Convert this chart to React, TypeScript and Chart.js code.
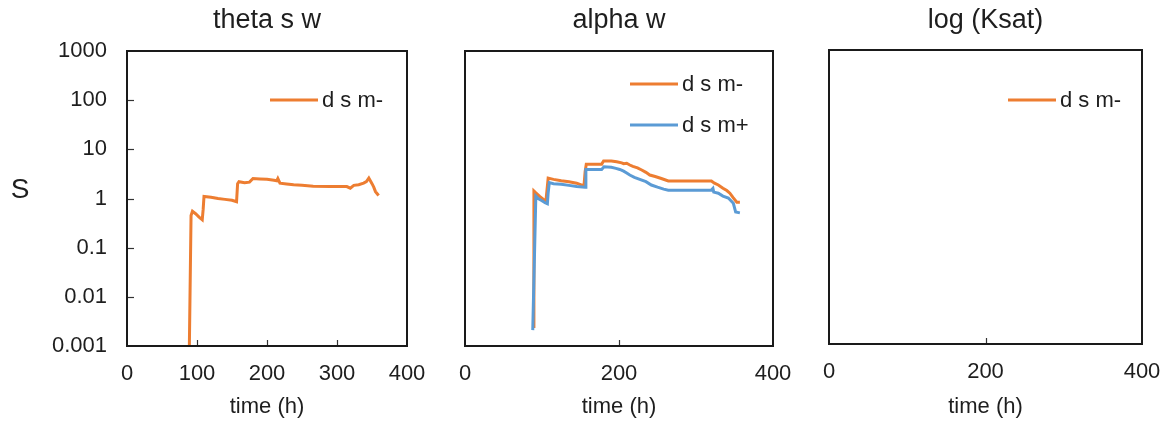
import React, { useEffect, useRef } from 'react';
import { Chart, registerables } from 'chart.js';

Chart.register(...registerables);

const ORANGE = '#ED7D31';
const BLUE = '#5B9BD5';
const TEXT = '#1e1e1e';
const FONT = '"Liberation Sans", Arial, sans-serif';

const yTickValues = [0.001, 0.01, 0.1, 1, 10, 100, 1000];
const panelTitles = ['theta s w', 'alpha w', 'log (Ksat)'];
const seriesLabels = ['d s m-', 'd s m+'];
const xAxisTitle = 'time (h)';
const yAxisTitle = 'S';

// theta s w, d s m-
const thetaTimes = [89, 91.5, 93.5, 98, 103, 107.5, 108.8, 110, 120, 130, 140, 150, 156.5, 158, 160, 168, 175, 180, 190, 200, 210, 214, 215.5, 218.5, 228, 238, 250, 266, 290, 314, 319, 324, 331, 338, 342, 345.5, 350, 352.5, 355, 359.5];
const thetaDsmMinus = [0.0008, 0.45, 0.55, 0.49, 0.42, 0.37, 0.6, 1.1, 1.06, 1.0, 0.96, 0.92, 0.86, 2.0, 2.2, 2.1, 2.15, 2.55, 2.5, 2.45, 2.35, 2.3, 2.55, 2.05, 1.98, 1.9, 1.85, 1.78, 1.76, 1.75, 1.62, 1.85, 1.9, 2.05, 2.2, 2.6, 2.0, 1.7, 1.38, 1.15];

// alpha w, d s m-
const alphaTimesMinus = [88.5, 89.5, 92, 97, 101, 105, 106.5, 108, 115, 125, 135, 145, 154.5, 156, 157.5, 165, 177.5, 180, 190, 197, 203.5, 206, 210, 214, 218, 224, 229.5, 235, 240, 247, 255, 264, 280, 300, 320, 324, 329, 335, 340, 344, 348, 353, 357];
const alphaDsmMinus = [0.0025, 1.42, 1.3, 1.1, 0.98, 0.86, 1.5, 2.6, 2.45, 2.3, 2.2, 2.05, 1.8, 3.5, 5.0, 5.0, 5.0, 5.8, 5.8, 5.6, 5.3, 5.1, 5.2, 4.8, 4.5, 4.2, 3.8, 3.4, 3.0, 2.8, 2.55, 2.27, 2.27, 2.27, 2.27, 2.05, 1.88, 1.62, 1.45, 1.28, 1.05, 0.84, 0.84];

// alpha w, d s m+
const alphaTimesPlus = [88, 92, 95, 100, 104, 107, 108, 109.5, 115, 125, 135, 145, 156, 157, 165, 177.5, 180.5, 190, 196, 201, 206, 210, 214, 220, 227, 235, 242, 250, 258, 264, 280, 300, 320, 322, 323, 329, 335, 342, 348.5, 351.5, 357];
const alphaDsmPlus = [0.0021, 1.12, 1.0, 0.9, 0.82, 0.78, 1.3, 2.1, 2.0, 1.95, 1.85, 1.75, 1.7, 3.9, 3.9, 3.9, 4.4, 4.3, 4.1, 3.9, 3.6, 3.3, 3.0, 2.7, 2.45, 2.2, 1.88, 1.7, 1.55, 1.48, 1.48, 1.48, 1.48, 1.6, 1.35, 1.28, 1.12, 1.02, 0.8, 0.53, 0.51];

// log (Ksat), d s m- : no visible values
const ksatTimes: number[] = [];
const ksatDsmMinus: number[] = [];

type Series = { label: string; x: number[]; y: number[]; color: string; order: number };

type PanelSpec = {
  left: number;
  width: number;
  padLeft: number;
  padRight: number;
  top: number;
  bottom: number;
  title: string;
  xStep: number;
  showY: boolean;
  series: Series[];
  legendDx: number;
  legendYs: number[];
};

const panels: PanelSpec[] = [
  {
    left: 0, width: 440, padLeft: 0, padRight: 33, top: 51, bottom: 346,
    title: panelTitles[0], xStep: 100, showY: true,
    series: [{ label: seriesLabels[0], x: thetaTimes, y: thetaDsmMinus, color: ORANGE, order: 1 }],
    legendDx: 143, legendYs: [100],
  },
  {
    left: 440, width: 360, padLeft: 25, padRight: 27, top: 51, bottom: 346,
    title: panelTitles[1], xStep: 200, showY: false,
    series: [
      { label: seriesLabels[0], x: alphaTimesMinus, y: alphaDsmMinus, color: ORANGE, order: 1 },
      { label: seriesLabels[1], x: alphaTimesPlus, y: alphaDsmPlus, color: BLUE, order: 0 },
    ],
    legendDx: 165, legendYs: [84, 125],
  },
  {
    left: 800, width: 370, padLeft: 29, padRight: 28, top: 50, bottom: 344,
    title: panelTitles[2], xStep: 200, showY: false,
    series: [{ label: seriesLabels[0], x: ksatTimes, y: ksatDsmMinus, color: ORANGE, order: 1 }],
    legendDx: 179, legendYs: [100],
  },
];

const HEIGHT = 423;

function Panel({ spec }: { spec: PanelSpec }) {
  const ref = useRef<HTMLCanvasElement | null>(null);

  useEffect(() => {
    const canvas = ref.current;
    if (!canvas) return;

    const decorPlugin = {
      id: 'decor' + spec.left,
      afterDatasetsDraw(chart: any) {
        const { ctx, chartArea } = chart;
        const { left, right, top, bottom } = chartArea;
        ctx.save();
        // legend
        ctx.font = `22px ${FONT}`;
        ctx.textAlign = 'left';
        ctx.textBaseline = 'middle';
        chart.data.datasets.forEach((ds: any, i: number) => {
          const ly = spec.legendYs[i];
          const lx = left + spec.legendDx;
          ctx.strokeStyle = ds.borderColor;
          ctx.lineWidth = 3;
          ctx.beginPath();
          ctx.moveTo(lx, ly);
          ctx.lineTo(lx + 48, ly);
          ctx.stroke();
          ctx.fillStyle = TEXT;
          ctx.fillText(ds.label, lx + 52, ly + 1);
        });
        // inward tick marks
        ctx.strokeStyle = '#333';
        ctx.lineWidth = 1.2;
        const xs = chart.scales.x;
        xs.ticks.forEach((t: any) => {
          if (t.value <= xs.min || t.value >= xs.max) return;
          const px = Math.round(xs.getPixelForValue(t.value)) + 0.5;
          ctx.beginPath();
          ctx.moveTo(px, bottom);
          ctx.lineTo(px, bottom - 6);
          ctx.stroke();
        });
        if (spec.showY) {
          const ys = chart.scales.y;
          yTickValues.forEach((v) => {
            if (v <= ys.min || v >= ys.max) return;
            const py = Math.round(ys.getPixelForValue(v)) + 0.5;
            ctx.beginPath();
            ctx.moveTo(left, py);
            ctx.lineTo(left + 7, py);
            ctx.stroke();
          });
          ctx.fillStyle = TEXT;
          ctx.font = `28px ${FONT}`;
          ctx.textAlign = 'center';
          ctx.textBaseline = 'middle';
          ctx.fillText(yAxisTitle, left - 107, top + 139);
        }
        // frame
        ctx.strokeStyle = '#1a1a1a';
        ctx.lineWidth = 2;
        ctx.strokeRect(left, top, right - left, bottom - top);
        ctx.restore();
      },
    };

    const titleSize = 27;
    const titleLH = titleSize * 1.2;
    const titlePadTop = 4;
    const titlePadBottom = spec.top - titlePadTop - titleLH;

    const chart = new Chart(canvas, {
      type: 'line',
      data: {
        datasets: spec.series.map((s) => ({
          label: s.label,
          data: s.x.map((x, i) => ({ x, y: s.y[i] })),
          borderColor: s.color,
          backgroundColor: s.color,
          borderWidth: 3,
          pointRadius: 0,
          tension: 0,
          fill: false,
          order: s.order,
        })),
      },
      options: {
        animation: false,
        responsive: false,
        maintainAspectRatio: false,
        layout: { padding: { left: spec.padLeft, right: spec.padRight, top: 0, bottom: 0 } },
        plugins: {
          legend: { display: false },
          tooltip: { enabled: false },
          title: {
            display: true,
            text: spec.title,
            color: TEXT,
            font: { family: FONT, size: titleSize, weight: 'normal' },
            padding: { top: titlePadTop, bottom: titlePadBottom },
            fullSize: false,
          },
        },
        scales: {
          x: {
            type: 'linear',
            min: 0,
            max: 400,
            ticks: { stepSize: spec.xStep, color: TEXT, font: { family: FONT, size: 22 }, padding: 15, maxRotation: 0, autoSkip: false },
            grid: { display: false, drawTicks: false },
            border: { display: false },
            title: { display: true, text: xAxisTitle, color: TEXT, font: { family: FONT, size: 22 }, padding: { top: 0, bottom: 3 } },
            afterFit: (s: any) => {
              s.height = HEIGHT - spec.bottom;
              s.paddingLeft = 0;
              s.paddingRight = 0;
            },
          },
          y: {
            type: 'logarithmic',
            min: 0.001,
            max: 1000,
            display: spec.showY,
            afterBuildTicks: (s: any) => { s.ticks = yTickValues.map((v) => ({ value: v })); },
            ticks: { color: TEXT, font: { family: FONT, size: 22 }, padding: 20, callback: (v: any) => String(Number(v)) },
            grid: { display: false, drawTicks: false },
            border: { display: false },
            afterFit: (s: any) => {
              s.width = spec.showY ? 127 : 0;
              s.paddingTop = 0;
              s.paddingBottom = 0;
            },
          },
        },
      },
      plugins: [decorPlugin],
    } as any);

    return () => chart.destroy();
  }, [spec]);

  return (
    <div style={{ position: 'absolute', left: spec.left, top: 0, width: spec.width, height: HEIGHT }}>
      <canvas ref={ref} width={spec.width} height={HEIGHT} style={{ width: spec.width, height: HEIGHT, display: 'block' }} />
    </div>
  );
}

export default function App() {
  return (
    <div style={{ position: 'fixed', left: 0, top: 0, width: 1170, height: HEIGHT, background: '#fff', overflow: 'hidden' }}>
      {panels.map((p) => (
        <Panel key={p.left} spec={p} />
      ))}
    </div>
  );
}
